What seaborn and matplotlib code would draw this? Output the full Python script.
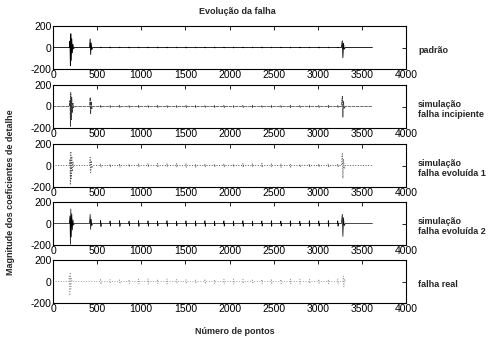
import matplotlib
matplotlib.use("Agg")
import matplotlib.pyplot as plt
import seaborn as sns

# eixo x: numero de pontos (fim do sinal)
n_fim = 3620
n_fim_real = 3320

# posicoes dos pequenos impulsos periodicos
pos_impulsos = [540, 647, 755, 862, 970, 1077, 1185, 1292, 1400, 1507, 1615, 1722, 1830,
                1937, 2045, 2152, 2260, 2367, 2475, 2582, 2690, 2797, 2905, 3012, 3120, 3227]

# amplitude dos pequenos impulsos em cada caso
amp_padrao = [3, 4, 3, 4, 3, 3, 4, 3, 3, 4, 3, 3, 4, 3, 4, 3, 3, 4, 3, 3, 4, 3, 3, 4, 3, 3]
amp_incipiente = [9, 8, 10, 8, 9, 8, 10, 9, 8, 10, 9, 8, 9, 10, 8, 9, 10, 8, 9, 8, 10, 9, 8, 9, 10, 9]
amp_evoluida1 = [18, 15, 17, 14, 16, 15, 17, 14, 16, 15, 14, 16, 15, 17, 14, 16, 15, 17, 14, 16, 15, 14, 16, 15, 17, 16]
amp_evoluida2 = [28, 24, 27, 22, 26, 25, 23, 26, 22, 25, 24, 26, 22, 25, 23, 26, 22, 24, 26, 23, 25, 22, 26, 24, 27, 25]
amp_real = [26, 20, 23, 18, 22, 24, 20, 23, 19, 22, 20, 24, 18, 21, 23, 19, 22, 20, 24, 19, 21, 23, 18, 22, 20, 24]

# surtos principais (x, y) de cada caso
surtos_padrao = [
    ([185, 192, 197, 202, 207, 213, 219, 226, 233, 242], [0, 60, -170, 128, -120, 80, -50, 30, -12, 0]),
    ([414, 421, 427, 433, 440, 449], [0, 80, -65, 42, -20, 0]),
    ([3268, 3278, 3285, 3292, 3300, 3312], [0, 62, -95, 40, -15, 0]),
]
surtos_incipiente = [
    ([185, 192, 197, 202, 207, 213, 219, 226, 233, 242], [0, 55, -185, 130, -125, 85, -55, 32, -12, 0]),
    ([414, 421, 427, 433, 440, 449], [0, 85, -70, 45, -22, 0]),
    ([3268, 3278, 3285, 3292, 3300, 3312], [0, 95, -100, 50, -20, 0]),
]
surtos_evoluida1 = [
    ([185, 192, 197, 202, 207, 213, 219, 226, 233, 242], [0, 60, -180, 130, -120, 85, -55, 35, -15, 0]),
    ([414, 421, 427, 433, 440, 449], [0, 75, -65, 45, -25, 0]),
    ([3268, 3278, 3285, 3292, 3300, 3312], [0, 110, -120, 60, -25, 0]),
]
surtos_evoluida2 = [
    ([185, 192, 197, 202, 207, 213, 219, 226, 233, 242], [0, 70, -195, 135, -125, 90, -60, 35, -15, 0]),
    ([414, 421, 427, 433, 440, 449], [0, 85, -55, 40, -20, 0]),
    ([3268, 3278, 3285, 3292, 3300, 3312], [0, 85, -120, 55, -20, 0]),
]
surtos_real = [
    ([178, 185, 190, 196, 202, 209, 218], [0, 50, -130, 85, -70, 30, 0]),
    ([3283, 3290, 3296, 3303, 3310], [0, 50, -50, 25, 0]),
]

rotulos = ["padrão", "simulação\nfalha incipiente", "simulação\nfalha evoluída 1",
           "simulação\nfalha evoluída 2", "falha real"]
x_ticks = [0, 500, 1000, 1500, 2000, 2500, 3000, 3500, 4000]
y_ticks = [-200, 0, 200]


def montar_sinal(surtos, amps, fim):
    pontos = {0: 0.0, fim: 0.0}
    for xs, ys in surtos:
        for a, b in zip(xs, ys):
            pontos[a] = b
    for p, a in zip(pos_impulsos, amps):
        if p < fim:
            pontos[p - 4] = 0.0
            pontos[p] = a
            pontos[p + 3] = -a
            pontos[p + 7] = 0.0
    xs = sorted(pontos)
    return xs, [pontos[k] for k in xs]


casos = [
    (surtos_padrao, amp_padrao, n_fim, dict(color="black", linewidth=0.6, linestyle="-")),
    (surtos_incipiente, amp_incipiente, n_fim, dict(color="#333333", linewidth=0.5, linestyle=(0, (5, 1)))),
    (surtos_evoluida1, amp_evoluida1, n_fim, dict(color="#555555", linewidth=0.7, linestyle=":")),
    (surtos_evoluida2, amp_evoluida2, n_fim, dict(color="black", linewidth=0.5, linestyle="-")),
    (surtos_real, amp_real, n_fim_real, dict(color="#a0a0a0", linewidth=0.7, linestyle=":")),
]

sns.set_style("white")
plt.rcParams["font.family"] = ["Liberation Sans", "DejaVu Sans"]
plt.rcParams["axes.unicode_minus"] = False

fig = plt.figure(figsize=(4.98, 3.45), dpi=100)
W, H = 498.0, 345.0
esq, dir_ = 53, 406
topos = [26, 85, 144, 202, 260]
altura = 43

for i, (surtos, amps, fim, estilo) in enumerate(casos):
    topo = topos[i]
    ax = fig.add_axes([esq / W, 1 - (topo + altura) / H, (dir_ - esq) / W, altura / H])
    xs, ys = montar_sinal(surtos, amps, fim)
    sns.lineplot(x=xs, y=ys, ax=ax, estimator=None, sort=False, **estilo)
    ax.set_xlim(0, 4000)
    ax.set_ylim(-200, 200)
    ax.set_xticks(x_ticks)
    ax.set_yticks(y_ticks)
    ax.tick_params(direction="in", top=True, right=True, length=3, width=0.6,
                   labelsize=7.5, pad=1, colors="black")
    for s in ax.spines.values():
        s.set_color("black")
        s.set_linewidth(0.8)
    fig.text(418 / W, 1 - (topo + altura / 2 + 3) / H, rotulos[i], fontsize=6.5,
             fontweight="bold", ha="left", va="center", linespacing=1.2)

fig.text(237 / W, 1 - 12 / H, "Evolução da falha", fontsize=6.5, fontweight="bold",
         ha="center", va="center")
fig.text(235 / W, 1 - 332 / H, "Número de pontos", fontsize=6.5, fontweight="bold",
         ha="center", va="center")
fig.text(11 / W, 1 - 192 / H, "Magnitude dos coeficientes de detalhe", fontsize=6.5,
         fontweight="bold", ha="center", va="center", rotation=90)

fig.savefig("out.png", dpi=100)
